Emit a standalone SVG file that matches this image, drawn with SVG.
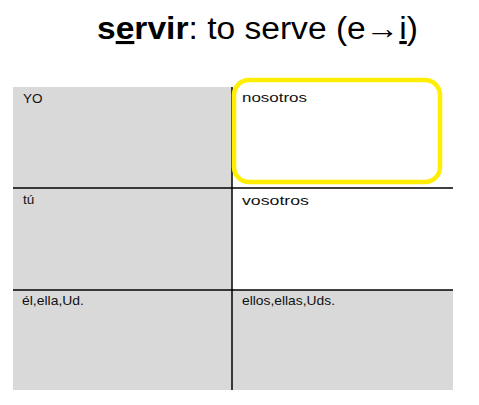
<svg xmlns="http://www.w3.org/2000/svg" width="479" height="405" viewBox="0 0 479 405">
<style>
.cell{fill:#d9d9d9}
.wcell{fill:#ffffff}
.lbl{font-family:"Liberation Sans",Arial,sans-serif;font-size:13.5px;fill:#111}
.grid{stroke:#000;stroke-width:1.5;fill:none}
.title{font-family:"Liberation Sans",Arial,sans-serif;font-size:31px;fill:#000}
</style>
<rect width="479" height="405" fill="#fff"/>
<g id="title">
<text class="title" x="97" y="39" textLength="321" lengthAdjust="spacingAndGlyphs"><tspan font-weight="bold">s<tspan text-decoration="underline">e</tspan>rvir</tspan>: to serve (e→<tspan text-decoration="underline">i</tspan>)</text>
</g>
<g id="cell-yo"><rect class="cell" x="13" y="87" width="219" height="101"/><text class="lbl" x="23" y="103">YO</text></g>
<g id="cell-nosotros"><rect class="wcell" x="232" y="87" width="221" height="101"/><text class="lbl" x="242" y="102" textLength="65" lengthAdjust="spacingAndGlyphs">nosotros</text></g>
<g id="cell-tu"><rect class="cell" x="13" y="188" width="219" height="102"/><text class="lbl" x="23" y="204">tú</text></g>
<g id="cell-vosotros"><rect class="wcell" x="232" y="188" width="221" height="102"/><text class="lbl" x="242" y="205" textLength="67" lengthAdjust="spacingAndGlyphs">vosotros</text></g>
<g id="cell-el"><rect class="cell" x="13" y="290" width="219" height="100"/><text class="lbl" x="22" y="305" textLength="62" lengthAdjust="spacingAndGlyphs">él,ella,Ud.</text></g>
<g id="cell-ellos"><rect class="cell" x="232" y="290" width="221" height="100"/><text class="lbl" x="242" y="305" textLength="93" lengthAdjust="spacingAndGlyphs">ellos,ellas,Uds.</text></g>
<g id="grid">
<line class="grid" x1="232" y1="87" x2="232" y2="390"/>
<line class="grid" x1="13" y1="188" x2="453" y2="188"/>
<line class="grid" x1="13" y1="290" x2="453" y2="290"/>
</g>
<g id="highlight">
<rect x="234" y="80" width="206" height="102" rx="15" ry="15" fill="none" stroke="#ffee00" stroke-width="4.5"/>
</g>
</svg>
